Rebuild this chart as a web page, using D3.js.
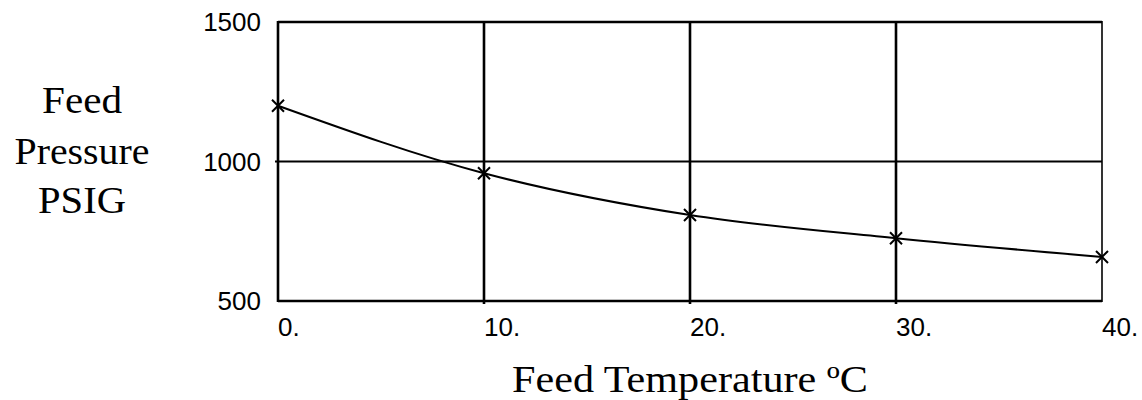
<!DOCTYPE html>
<html>
<head>
<meta charset="utf-8">
<script src="https://cdn.jsdelivr.net/npm/d3@7"></script>
<style>
  body { margin: 0; background: #fff; }
  .tick-label { font-family: "Liberation Sans", Arial, sans-serif; font-size: 26px; fill: #000; }
  .title { font-family: "Liberation Serif", "Times New Roman", serif; font-size: 38px; fill: #000; }
</style>
</head>
<body>
<div id="chart"></div>
<script>
// data
var temps = [0, 10, 20, 30, 40];
var pressures = [1200, 958, 808, 725, 658];

var xTicks = [0, 10, 20, 30, 40];
var xTickLabels = ["0.", "10.", "20.", "30.", "40."];
var yTicks = [500, 1000, 1500];
var yTickLabels = ["500", "1000", "1500"];

var yTitleLines = ["Feed", "Pressure", "PSIG"];
var xTitle = "Feed Temperature \u00BAC";

var svgWidth = 1142;
var svgHeight = 400;

var plot = { left: 278, right: 1102, top: 22, bottom: 301 };

var svg = d3.select("#chart")
  .append("svg")
  .attr("width", svgWidth)
  .attr("height", svgHeight);

svg.append("rect")
  .attr("width", svgWidth)
  .attr("height", svgHeight)
  .attr("fill", "#fff");

var xScale = d3.scaleLinear()
  .domain([0, 40])
  .range([plot.left, plot.right]);

var yScale = d3.scaleLinear()
  .domain([500, 1500])
  .range([plot.bottom, plot.top]);

// grid lines (inner)
svg.selectAll(".vgrid")
  .data(xTicks.slice(1, -1))
  .enter()
  .append("line")
  .attr("x1", d => xScale(d))
  .attr("x2", d => xScale(d))
  .attr("y1", plot.top)
  .attr("y2", plot.bottom + 3)
  .attr("stroke", "#000")
  .attr("stroke-width", 2.6);

svg.selectAll(".hgrid")
  .data(yTicks.slice(1, -1))
  .enter()
  .append("line")
  .attr("x1", plot.left - 3)
  .attr("x2", plot.right)
  .attr("y1", d => yScale(d))
  .attr("y2", d => yScale(d))
  .attr("stroke", "#000")
  .attr("stroke-width", 2.2);

// frame
svg.append("line")
  .attr("x1", plot.left).attr("x2", plot.right)
  .attr("y1", plot.top).attr("y2", plot.top)
  .attr("stroke", "#000").attr("stroke-width", 2.4);
svg.append("line")
  .attr("x1", plot.left).attr("x2", plot.right)
  .attr("y1", plot.bottom).attr("y2", plot.bottom)
  .attr("stroke", "#000").attr("stroke-width", 2.4);
svg.append("line")
  .attr("x1", plot.left).attr("x2", plot.left)
  .attr("y1", plot.top - 1).attr("y2", plot.bottom + 1)
  .attr("stroke", "#000").attr("stroke-width", 2.6);
svg.append("line")
  .attr("x1", plot.right).attr("x2", plot.right)
  .attr("y1", plot.top - 1).attr("y2", plot.bottom + 1)
  .attr("stroke", "#000").attr("stroke-width", 1.6);

// tick labels
svg.selectAll(".ylab")
  .data(yTicks)
  .enter()
  .append("text")
  .attr("class", "tick-label")
  .attr("x", plot.left - 17)
  .attr("y", d => yScale(d))
  .attr("dy", "0.35em")
  .attr("text-anchor", "end")
  .text((d, i) => yTickLabels[i]);

svg.selectAll(".xlab")
  .data(xTicks)
  .enter()
  .append("text")
  .attr("class", "tick-label")
  .attr("x", d => xScale(d))
  .attr("y", 336)
  .attr("text-anchor", "start")
  .text((d, i) => xTickLabels[i]);

// data line
var points = temps.map((t, i) => ({ t: t, p: pressures[i] }));

var line = d3.line()
  .x(d => xScale(d.t))
  .y(d => yScale(d.p))
  .curve(d3.curveMonotoneX);

svg.append("path")
  .datum(points)
  .attr("d", line)
  .attr("fill", "none")
  .attr("stroke", "#000")
  .attr("stroke-width", 2);

// x markers
var m = 6;
svg.selectAll(".marker")
  .data(points)
  .enter()
  .append("path")
  .attr("d", d => {
    var cx = xScale(d.t), cy = yScale(d.p);
    return "M" + (cx - m) + "," + (cy - m) + "L" + (cx + m) + "," + (cy + m) +
           "M" + (cx - m) + "," + (cy + m) + "L" + (cx + m) + "," + (cy - m);
  })
  .attr("stroke", "#000")
  .attr("stroke-width", 2)
  .attr("fill", "none");

// titles
var yTitleBase = [113, 164, 213];
var yTitleWidth = [80, 135, 88];
svg.selectAll(".ytitle")
  .data(yTitleLines)
  .enter()
  .append("text")
  .attr("class", "title")
  .attr("x", 82)
  .attr("y", (d, i) => yTitleBase[i])
  .attr("text-anchor", "middle")
  .attr("textLength", (d, i) => yTitleWidth[i])
  .attr("lengthAdjust", "spacingAndGlyphs")
  .text(d => d);

svg.append("text")
  .attr("class", "title")
  .attr("x", 512)
  .attr("y", 392)
  .attr("textLength", 356)
  .attr("lengthAdjust", "spacingAndGlyphs")
  .text(xTitle);
</script>
</body>
</html>
